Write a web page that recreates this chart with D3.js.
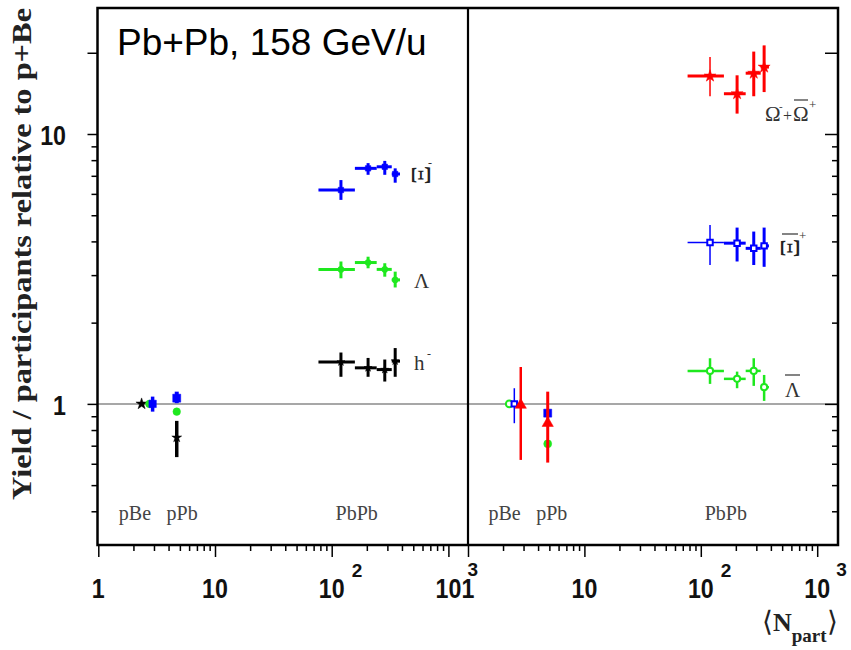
<!DOCTYPE html>
<html>
<head>
<meta charset="utf-8">
<script src="https://cdn.jsdelivr.net/npm/d3@7"></script>
<style>
body{margin:0;background:#fff}
</style>
</head>
<body>
<div id="chart"></div>
<script>
// Pb+Pb centrality classes: <Npart> and class width
const npartPbPb = [120, 205, 285, 350];
const npartPbPbLo = [77, 158, 243, 327];
const npartPbPbHi = [158, 243, 327, 385];

// left panel: h-, Lambda, Xi-   (pA points: pBe, pPb)
const hMinusPaN = [2.35, 4.7];
const hMinusPaY = [1.0, 0.75];
const hMinusPaLo = [1.0, 0.635];
const hMinusPaHi = [1.0, 0.865];
const hMinusY = [1.43, 1.36, 1.34, 1.44];
const hMinusLo = [1.26, 1.26, 1.21, 1.26];
const hMinusHi = [1.55, 1.48, 1.46, 1.61];

const lambdaPaN = [2.74, 4.7];
const lambdaPaY = [1.0, 0.936];
const lambdaPaLo = [1.0, 0.936];
const lambdaPaHi = [1.0, 0.936];
const lambdaY = [3.15, 3.34, 3.15, 2.88];
const lambdaLo = [2.92, 3.18, 2.96, 2.70];
const lambdaHi = [3.37, 3.51, 3.32, 3.09];

const xiMinusPaN = [2.92, 4.7];
const xiMinusPaY = [1.0, 1.05];
const xiMinusPaLo = [0.936, 1.006];
const xiMinusPaHi = [1.064, 1.11];
const xiMinusY = [6.2, 7.46, 7.56, 7.11];
const xiMinusLo = [5.7, 7.06, 7.06, 6.6];
const xiMinusHi = [6.75, 7.8, 7.95, 7.46];

// right panel: Omega- + anti-Omega+, anti-Xi+, anti-Lambda
const omegaPaN = [2.84, 4.84];
const omegaPaY = [0.99, 0.848];
const omegaPaLo = [0.62, 0.606];
const omegaPaHi = [1.37, 1.11];
const omegaY = [16.4, 14.1, 16.8, 17.7];
const omegaLo = [13.8, 11.9, 13.8, 14.3];
const omegaHi = [19.3, 16.5, 20.2, 21.3];

const xiPlusPaN = [2.5, 4.84];
const xiPlusPaY = [1.0, 0.924];
const xiPlusPaLo = [0.848, 0.924];
const xiPlusPaHi = [1.143, 0.924];
const xiPlusY = [3.96, 3.94, 3.77, 3.85];
const xiPlusLo = [3.27, 3.37, 3.27, 3.22];
const xiPlusHi = [4.6, 4.5, 4.35, 4.5];

const lambdaBarPaN = [2.26, 4.84];
const lambdaBarPaY = [1.0, 0.711];
const lambdaBarPaLo = [1.0, 0.711];
const lambdaBarPaHi = [1.0, 0.711];
const lambdaBarY = [1.325, 1.238, 1.325, 1.153];
const lambdaBarLo = [1.186, 1.143, 1.166, 1.026];
const lambdaBarHi = [1.476, 1.317, 1.476, 1.28];

const systemLabels = ['pBe', 'pPb', 'PbPb'];
const systemLabelN = [1.5, 3.85, 108];
const xMajor = [1, 10, 100, 1000];
const yMajor = [1, 10];

const W = 851, H = 650;
const fLeft = 97.5, fMid = 468, fRight = 838, fTop = 8, fBottom = 545;

const svg = d3.select('#chart').append('svg')
  .attr('width', W).attr('height', H)
  .style('background', '#fff');

// scales
const y = d3.scaleLog().domain([0.3, 29.3]).range([fBottom, fTop]);
const xL = d3.scaleLog().domain([1, 1000]).range([98.3, 448.4]);
const xR = d3.scaleLog().domain([1, 1000]).range([468, 817.2]);

let xMinor = [];
[1, 10, 100].forEach(d => { for (let k = 2; k <= 9; k++) xMinor.push(d * k); });
let yMinor = [0.4, 0.5, 0.6, 0.7, 0.8, 0.9, 2, 3, 4, 5, 6, 7, 8, 9];

// reference line at 1
svg.append('line')
  .attr('x1', fLeft).attr('x2', fRight)
  .attr('y1', y(1)).attr('y2', y(1))
  .attr('stroke', '#8a8a8a').attr('stroke-width', 1.5);

// x axes (ticks only)
function drawXAxis(x) {
  let g1 = svg.append('g').attr('transform', `translate(0,${fBottom})`)
    .call(d3.axisBottom(x).tickValues(xMinor).tickSize(6).tickFormat(''));
  let g2 = svg.append('g').attr('transform', `translate(0,${fBottom})`)
    .call(d3.axisBottom(x).tickValues(xMajor).tickSize(12).tickFormat(''));
  [g1, g2].forEach(g => {
    g.select('.domain').remove();
    g.selectAll('line').attr('stroke', '#000').attr('stroke-width', 1.5);
  });
}
drawXAxis(xL);
drawXAxis(xR);

// y axes: left outside, right inside
function drawYAxis(xpos, big) {
  let g1 = svg.append('g').attr('transform', `translate(${xpos},0)`)
    .call(d3.axisLeft(y).tickValues(yMinor).tickSize(6).tickFormat(''));
  let g2 = svg.append('g').attr('transform', `translate(${xpos},0)`)
    .call(d3.axisLeft(y).tickValues(yMajor.concat([20])).tickSize(big).tickFormat(''));
  [g1, g2].forEach(g => {
    g.select('.domain').remove();
    g.selectAll('line').attr('stroke', '#000').attr('stroke-width', 1.5);
  });
}
drawYAxis(fLeft, 10);
drawYAxis(fRight, 13);

// tick labels
const tickFont = "'Liberation Sans', Arial, sans-serif";
function tickLabel(x, yy, txt, anchor) {
  svg.append('text')
    .attr('transform', `translate(${x},${yy}) scale(0.86,1)`)
    .attr('text-anchor', anchor || 'middle')
    .style('font-family', tickFont).style('font-weight', 'bold')
    .style('font-size', '27px').attr('fill', '#111')
    .text(txt);
}
function supLabel(x, yy, txt) {
  svg.append('text')
    .attr('x', x).attr('y', yy)
    .style('font-family', tickFont).style('font-weight', 'bold')
    .style('font-size', '19px').attr('fill', '#111')
    .text(txt);
}
[xL, xR].forEach(x => {
  xMajor.forEach(v => {
    let px = x(v);
    if (v === 1) tickLabel(px, 598, '1');
    else tickLabel(px, 598, '10');
    if (v === 100) supLabel(px + 20, 577, '2');
    if (v === 1000) supLabel(px + 19, 576, '3');
  });
});
yMajor.forEach(v => tickLabel(66, y(v) + 11, String(v), 'end'));

const serif = "'Liberation Serif', 'Times New Roman', serif";

// y axis title
svg.append('text')
  .attr('transform', `translate(31,254) rotate(-90)`)
  .attr('text-anchor', 'middle')
  .attr('textLength', 492).attr('lengthAdjust', 'spacingAndGlyphs')
  .style('font-family', serif)
  .style('font-weight', 'bold').style('font-size', '28px')
  .attr('fill', '#222')
  .text('Yield / participants relative to p+Be');

// x axis title <N_part>
let xt = svg.append('text').attr('x', 762).attr('y', 631)
  .style('font-family', serif).style('font-weight', 'bold').attr('fill', '#222');
xt.append('tspan').style('font-size', '28px').style('font-weight', 'normal').text('\u27E8');
xt.append('tspan').style('font-size', '26px').text('N');
xt.append('tspan').attr('dy', 11).style('font-size', '19px').text('part');
xt.append('tspan').attr('dy', -11).style('font-size', '28px').style('font-weight', 'normal').text('\u27E9');

// title
svg.append('text')
  .attr('x', 117).attr('y', 55)
  .style('font-family', tickFont).style('font-size', '37px')
  .attr('fill', '#000')
  .text('Pb+Pb, 158 GeV/u');

// system labels
[xL, xR].forEach(x => {
  systemLabels.forEach((s, i) => {
    svg.append('text')
      .attr('x', x(systemLabelN[i])).attr('y', 520)
      .style('font-family', serif).style('font-size', '20px')
      .attr('fill', '#444')
      .text(s);
  });
});

// data drawing
function drawSeries(x, cfg) {
  const g = svg.append('g');
  const pts = [];
  cfg.paN.forEach((n, i) => pts.push({
    n: n, v: cfg.paY[i], lo: cfg.paLo[i], hi: cfg.paHi[i],
    nlo: null, nhi: null, sym: cfg.paSym[i], open: cfg.paOpen[i],
    ew: cfg.paEw[i], size: cfg.paSize[i]
  }));
  cfg.y.forEach((v, i) => pts.push({
    n: npartPbPb[i], v: v, lo: cfg.lo[i], hi: cfg.hi[i],
    nlo: npartPbPbLo[i], nhi: npartPbPbHi[i], sym: cfg.aaSym, open: cfg.aaOpen,
    ew: (i === 0 && cfg.thinFirst) ? 1.5 : cfg.aaEw,
    hw: (i === 0 && cfg.thinFirstH) ? 1.5 : cfg.aaEw,
    size: cfg.aaSize
  }));
  pts.forEach(p => {
    if (p.nlo !== null) {
      g.append('line')
        .attr('x1', x(p.nlo)).attr('x2', x(p.nhi))
        .attr('y1', y(p.v)).attr('y2', y(p.v))
        .attr('stroke', cfg.color).attr('stroke-width', p.hw);
    }
    if (p.hi > p.lo) {
      g.append('line')
        .attr('x1', x(p.n)).attr('x2', x(p.n))
        .attr('y1', y(p.hi)).attr('y2', y(p.lo))
        .attr('stroke', cfg.color).attr('stroke-width', p.ew);
    }
  });
  g.selectAll('path.mk').data(pts).enter().append('path')
    .attr('class', 'mk')
    .attr('d', p => d3.symbol().type(p.sym).size(p.size)())
    .attr('transform', p => `translate(${x(p.n)},${y(p.v)})`)
    .attr('fill', p => p.open ? '#fff' : cfg.color)
    .attr('stroke', cfg.color)
    .attr('stroke-width', p => p.open ? 2 : 0.5);
}

drawSeries(xL, {
  color: '#000', paN: hMinusPaN, paY: hMinusPaY, paLo: hMinusPaLo, paHi: hMinusPaHi,
  paSym: [d3.symbolStar, d3.symbolStar], paOpen: [false, false], paEw: [2, 3.5], paSize: [40, 30],
  y: hMinusY, lo: hMinusLo, hi: hMinusHi, aaSym: d3.symbolStar, aaOpen: false, aaEw: 3, aaSize: 20
});
drawSeries(xL, {
  color: '#1ee81e', paN: lambdaPaN, paY: lambdaPaY, paLo: lambdaPaLo, paHi: lambdaPaHi,
  paSym: [d3.symbolCircle, d3.symbolCircle], paOpen: [false, false], paEw: [2, 2], paSize: [45, 45],
  y: lambdaY, lo: lambdaLo, hi: lambdaHi, aaSym: d3.symbolCircle, aaOpen: false, aaEw: 3, aaSize: 30
});
drawSeries(xL, {
  color: '#0000ff', paN: xiMinusPaN, paY: xiMinusPaY, paLo: xiMinusPaLo, paHi: xiMinusPaHi,
  paSym: [d3.symbolSquare, d3.symbolSquare], paOpen: [false, false], paEw: [3.5, 4], paSize: [55, 64],
  y: xiMinusY, lo: xiMinusLo, hi: xiMinusHi, aaSym: d3.symbolSquare, aaOpen: false, aaEw: 3, aaSize: 30
});

drawSeries(xR, {
  color: '#1ee81e', paN: lambdaBarPaN, paY: lambdaBarPaY, paLo: lambdaBarPaLo, paHi: lambdaBarPaHi,
  paSym: [d3.symbolCircle, d3.symbolCircle], paOpen: [true, false], paEw: [2, 2], paSize: [35, 50],
  y: lambdaBarY, lo: lambdaBarLo, hi: lambdaBarHi, aaSym: d3.symbolCircle, aaOpen: true, aaEw: 2.5, aaSize: 30
});
drawSeries(xR, {
  color: '#0000ff', paN: xiPlusPaN, paY: xiPlusPaY, paLo: xiPlusPaLo, paHi: xiPlusPaHi,
  paSym: [d3.symbolSquare, d3.symbolSquare], paOpen: [true, false], paEw: [1.5, 2], paSize: [30, 64],
  y: xiPlusY, lo: xiPlusLo, hi: xiPlusHi, aaSym: d3.symbolSquare, aaOpen: true, aaEw: 3, aaSize: 30,
  thinFirst: true, thinFirstH: true
});
drawSeries(xR, {
  color: '#ff0000', paN: omegaPaN, paY: omegaPaY, paLo: omegaPaLo, paHi: omegaPaHi,
  paSym: [d3.symbolTriangle, d3.symbolTriangle], paOpen: [false, false], paEw: [2.5, 3], paSize: [55, 55],
  y: omegaY, lo: omegaLo, hi: omegaHi, aaSym: d3.symbolStar, aaOpen: false, aaEw: 3, aaSize: 45,
  thinFirst: true
});

// particle labels
function ptext(x, yy, txt, size) {
  return svg.append('text').attr('x', x).attr('y', yy)
    .style('font-family', serif).style('font-size', (size || 21) + 'px')
    .attr('fill', '#333').text(txt);
}
function rotXi(cx, cy) {
  svg.append('text')
    .attr('transform', `translate(${cx},${cy}) rotate(-90) scale(1.25,1.1)`)
    .attr('text-anchor', 'middle').attr('dominant-baseline', 'central')
    .style('font-family', serif).style('font-size', '24px')
    .attr('fill', '#222').text('\u039E');
}
// Xi-
rotXi(421, 175);
ptext(428, 167, '-', 12);
// Lambda
ptext(414, 288, '\u039B');
// h-
ptext(414, 370, 'h');
ptext(427, 358, '-', 12);
// Omega- + anti-Omega+
ptext(765, 121, '\u03A9');
ptext(779, 110, '-', 11);
ptext(783, 121, '+', 16);
ptext(793, 121, '\u03A9');
svg.append('line').attr('x1', 794).attr('x2', 808).attr('y1', 100).attr('y2', 100)
  .attr('stroke', '#333').attr('stroke-width', 1.2);
ptext(809, 109, '+', 13);
// anti-Xi+
rotXi(790, 248);
svg.append('line').attr('x1', 782).attr('x2', 798).attr('y1', 234).attr('y2', 234)
  .attr('stroke', '#333').attr('stroke-width', 1.2);
ptext(799, 240, '+', 13);
// anti-Lambda
ptext(785, 397, '\u039B');
svg.append('line').attr('x1', 785).attr('x2', 800).attr('y1', 375).attr('y2', 375)
  .attr('stroke', '#333').attr('stroke-width', 1.2);

// frame on top
svg.append('rect')
  .attr('x', fLeft).attr('y', fTop)
  .attr('width', fRight - fLeft).attr('height', fBottom - fTop)
  .attr('fill', 'none').attr('stroke', '#000').attr('stroke-width', 2.5);
svg.append('line')
  .attr('x1', fMid).attr('x2', fMid).attr('y1', fTop).attr('y2', fBottom)
  .attr('stroke', '#000').attr('stroke-width', 2.2);
</script>
</body>
</html>
